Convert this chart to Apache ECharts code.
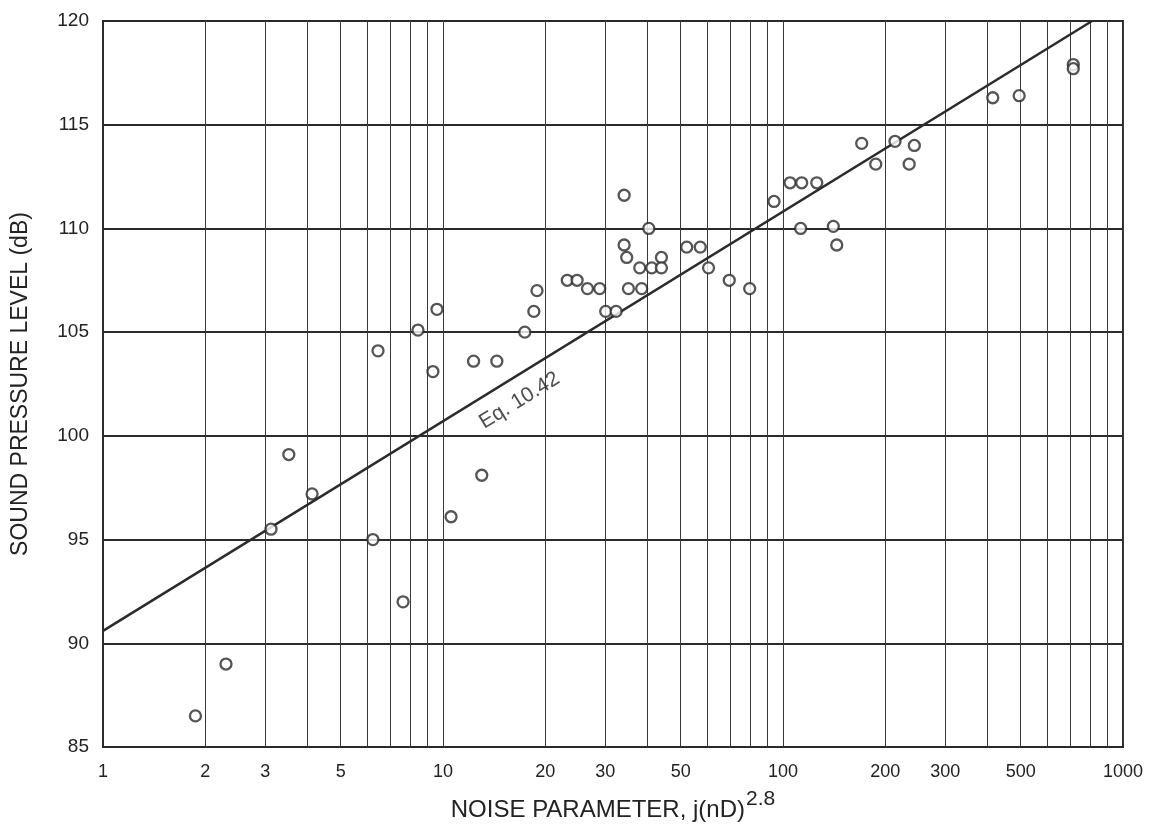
<!DOCTYPE html>
<html>
<head>
<meta charset="utf-8">
<script src="https://cdn.jsdelivr.net/npm/echarts@6/dist/echarts.min.js"></script>
<style>
html, body { margin: 0; padding: 0; background: #fff; }
#ech { width: 1161px; height: 833px; }
</style>
</head>
<body>
<div id="ech"></div>
<script>
// measured points: noise parameter j(nD)^2.8 vs sound pressure level (dB)
var noiseParam = [1.87, 2.30, 3.12, 3.52, 4.12, 6.22, 6.44, 7.63, 8.44, 9.34,
	9.6, 10.56, 12.3, 13.0, 14.4, 17.4, 18.5, 18.9, 23.2, 24.8,
	26.6, 28.9, 30.1, 32.3, 34.1, 34.1, 34.7, 35.1, 37.9, 38.4,
	40.3, 41.1, 43.9, 43.9, 52.1, 57.1, 60.4, 69.5, 79.8, 94.1,
	104.9, 113.5, 125.7, 112.7, 140.6, 143.9, 170.4, 187.4, 213.5, 235,
	243.4, 414, 495, 714, 714, 926];
var splDb = [86.5, 89.0, 95.5, 99.1, 97.2, 95.0, 104.1, 92.0, 105.1, 103.1,
	106.1, 96.1, 103.6, 98.1, 103.6, 105.0, 106.0, 107.0, 107.5, 107.5,
	107.1, 107.1, 106.0, 106.0, 111.6, 109.2, 108.6, 107.1, 108.1, 107.1,
	110.0, 108.1, 108.6, 108.1, 109.1, 109.1, 108.1, 107.5, 107.1, 111.3,
	112.2, 112.2, 112.2, 110.0, 110.1, 109.2, 114.1, 113.1, 114.2, 113.1,
	114.0, 116.3, 116.4, 117.9, 117.7, 120.2];

// Eq. 10.42 line end points
var eqX = [1, 811];
var eqY = [90.6, 120];
var eqLabel = 'Eq. 10.42';
var eqLabelAt = [16.8, 101.7];

// axis ticks
var xGrid = [1, 2, 3, 4, 5, 6, 7, 8, 9, 10, 20, 30, 40, 50, 60, 70, 80, 90, 100,
	200, 300, 400, 500, 600, 700, 800, 900, 1000];
var xLabels = [1, 2, 3, 5, 10, 20, 30, 50, 100, 200, 300, 500, 1000];

function show() {
	var pts = [];
	for (var i = 0; i < noiseParam.length; i++) {
		pts.push([noiseParam[i], splDb[i]]);
	}
	var line = [];
	for (var k = 0; k < eqX.length; k++) {
		line.push([eqX[k], eqY[k]]);
	}
	showEchart(pts, line);
}

function showEchart(pts, line) {
	var ink = '#2b2b2b';
	var txt = '#222';
	var myChart = echarts.init(document.getElementById('ech'));
	var option = {
		backgroundColor : '#fff',
		animation : false,
		grid : {
			left : 103,
			right : 38,
			top : 21,
			bottom : 86,
			show : true,
			borderColor : ink,
			borderWidth : 2,
			outerBoundsMode : 'none'
		},
		xAxis : {
			type : 'log',
			logBase : 10,
			min : 1,
			max : 1000,
			name : '{a|NOISE PARAMETER, j(nD)}{s|2.8}',
			nameLocation : 'middle',
			nameGap : 41,
			nameTextStyle : {
				rich : {
					a : { fontFamily : 'Liberation Sans', fontSize : 24, color : txt, padding : [10, 0, 0, 0] },
					s : { fontFamily : 'Liberation Sans', fontSize : 21, color : txt, padding : [0, 0, 12, 1] }
				}
			},
			axisLine : { lineStyle : { color : ink, width : 2 } },
			axisTick : { show : false, customValues : xGrid },
			splitLine : { show : true, lineStyle : { color : '#3a3a3a', width : 1 } },
			axisLabel : {
				customValues : xLabels,
				formatter : function (v) { return String(v); },
				fontFamily : 'Liberation Sans',
				fontSize : 18,
				color : txt,
				margin : 16
			}
		},
		yAxis : {
			type : 'value',
			min : 85,
			max : 120,
			interval : 5,
			name : 'SOUND PRESSURE LEVEL (dB)',
			nameLocation : 'middle',
			nameGap : 71,
			nameTextStyle : { fontFamily : 'Liberation Sans', fontSize : 23, color : txt },
			axisLine : { show : true, lineStyle : { color : ink, width : 2 } },
			axisTick : { show : false },
			splitLine : { show : true, lineStyle : { color : ink, width : 2 } },
			axisLabel : {
				fontFamily : 'Liberation Sans',
				fontSize : 19,
				color : txt,
				margin : 14
			}
		},
		series : [{
			name : 'eq',
			type : 'line',
			data : line,
			symbol : 'none',
			lineStyle : { color : ink, width : 2.5 },
			z : 3
		}, {
			name : 'label',
			type : 'scatter',
			data : [eqLabelAt],
			symbolSize : 0,
			silent : true,
			label : {
				show : true,
				position : 'inside',
				formatter : eqLabel,
				rotate : 31.6,
				fontFamily : 'Liberation Sans',
				fontSize : 21,
				color : txt
			},
			z : 4
		}, {
			name : 'data',
			type : 'scatter',
			data : pts,
			symbol : 'circle',
			symbolSize : 11,
			itemStyle : { color : '#fff', borderColor : ink, borderWidth : 2.3 },
			z : 5
		}]
	};
	myChart.setOption(option);
}

show();
</script>
</body>
</html>
